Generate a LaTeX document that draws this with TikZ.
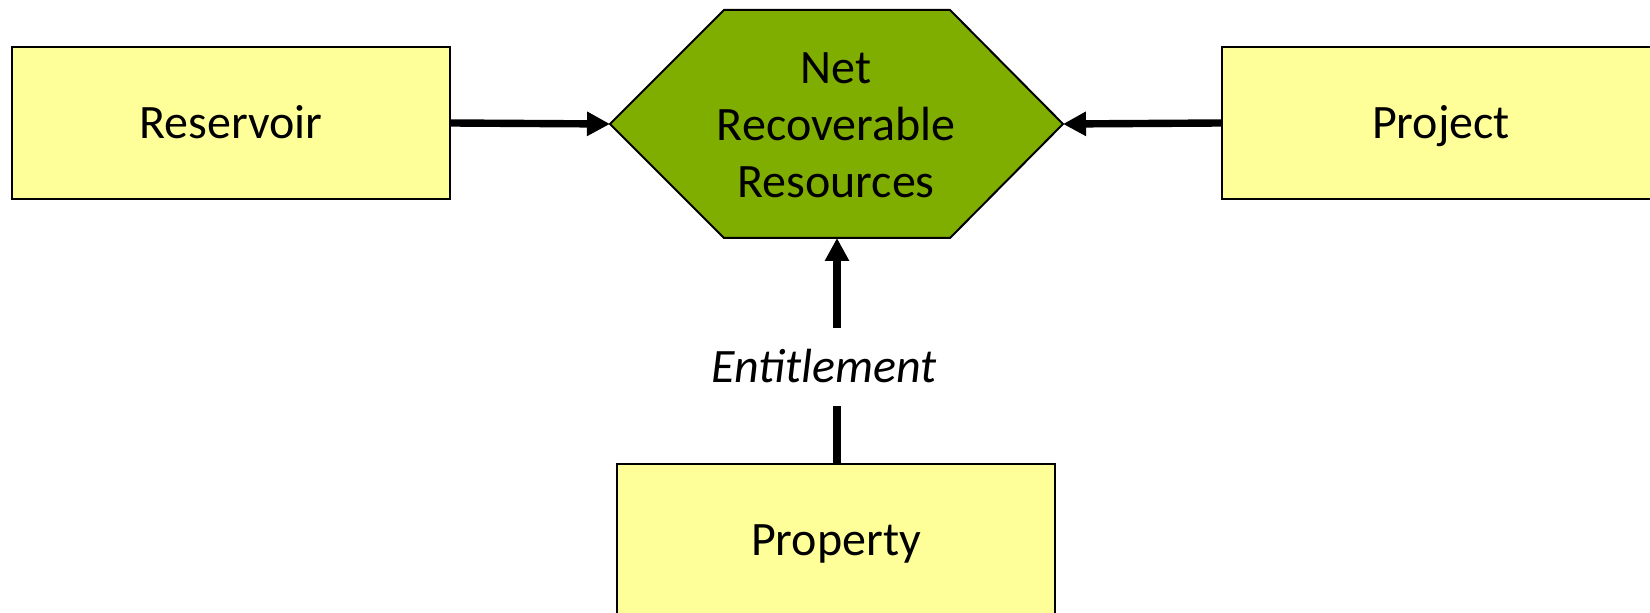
\documentclass[tikz,border=0pt]{standalone}
\usepackage{fontspec}
\setmainfont{Carlito}
\usetikzlibrary{arrows.meta}
\definecolor{boxyellow}{HTML}{FFFF99}
\definecolor{hexgreen}{HTML}{7FAE00}
\begin{document}
\begin{tikzpicture}[x=0.5pt,y=-0.5pt,
  lbl/.style={font=\fontsize{24}{28.5}\selectfont, inner sep=0pt},
  entity/.style={lbl, draw=black, line width=1pt, fill=boxyellow, minimum width=219pt, minimum height=76pt, text height=15.5pt, text depth=0pt},
  hexshape/.style={draw=black, line width=1pt, fill=hexgreen},
  flow/.style={line width=3.7pt, -{Triangle[length=11.5pt,width=11.5pt]}},
  plainline/.style={line width=3.7pt}]
\useasboundingbox (0,0) rectangle (1650,613);
\clip (0,0) rectangle (1650,613);
\node[entity] (res) at (231,123) {Reservoir};
\node[entity] (proj) at (1441,123) {Project};
\node[entity] (prop) at (836,540) {Property};
\draw[hexshape] (610,124) -- (724,10) -- (950,10) -- (1063,124) -- (950,238) -- (724,238) -- cycle;
\coordinate (hexW) at (610,124);
\coordinate (hexE) at (1063,124);
\coordinate (hexS) at (837,238);
\node[lbl, align=center] (nrr) at (836,125) {Net\\Recoverable\\Resources};
\node[lbl, font=\fontsize{24}{28.5}\selectfont\itshape, minimum height=39pt, text height=15.5pt, text depth=0pt] (ent) at (824,367) {Entitlement};
\coordinate (entS) at (837,406);
\coordinate (entN) at (837,328);
\draw[flow] (res.east) -- (hexW);
\draw[flow] (proj.west) -- (hexE);
\draw[plainline] (prop.north -| entS) -- (entS);
\draw[flow] (entN) -- (hexS);
\end{tikzpicture}
\end{document}
